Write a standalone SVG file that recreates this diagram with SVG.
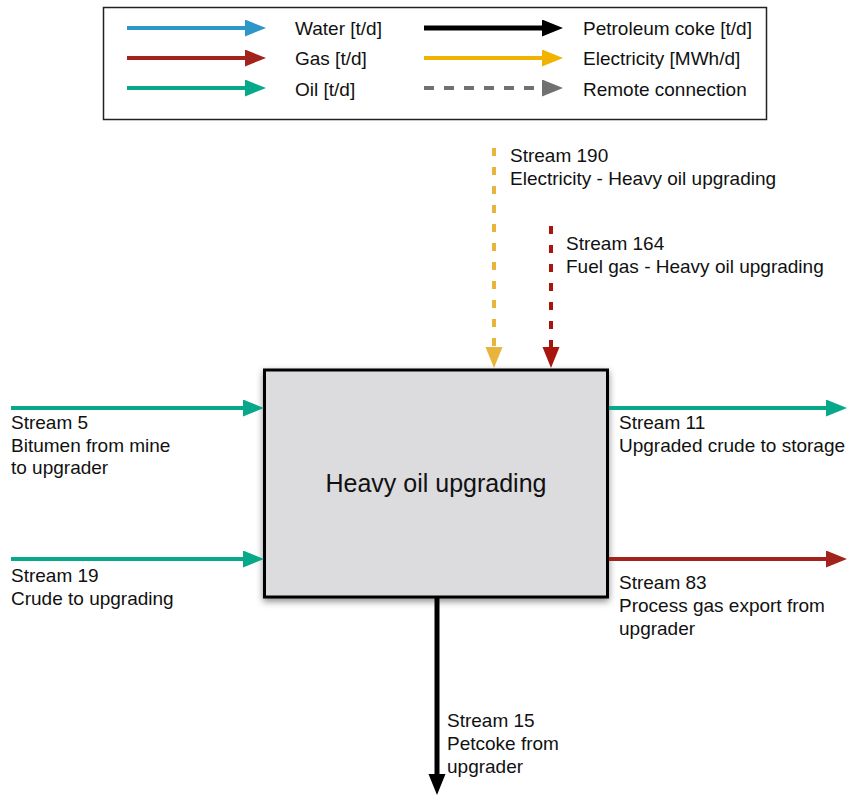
<svg xmlns="http://www.w3.org/2000/svg" width="848" height="795" viewBox="0 0 848 795">
  <style>
    text { font-family: "Liberation Sans", Arial, Helvetica, sans-serif; font-size: 19px; fill: #111; }
    .flow { fill: none; stroke-width: 4; }
    .water { stroke: #2d97c9; }
    .gas { stroke: #a3221b; }
    .oil { stroke: #08a98b; }
    .coke { stroke: #000; stroke-width: 5; }
    .elec { stroke: #f0b400; }
    .remote { stroke: #707070; stroke-dasharray: 10 10; }
    .elec-remote { stroke: #e8b43c; stroke-dasharray: 8 11; }
    .gas-remote { stroke: #a8150c; stroke-dasharray: 8 11; }
    .box { fill: #dcdcde; stroke: #000; stroke-width: 3; }
  </style>
  <defs>
    <marker id="h-water" markerUnits="userSpaceOnUse" markerWidth="22" markerHeight="18" refX="0" refY="8.5" orient="auto"><path d="M0,0 L21,8.5 L0,17 z" fill="#2d97c9"/></marker>
    <marker id="h-gas" markerUnits="userSpaceOnUse" markerWidth="22" markerHeight="18" refX="0" refY="8.5" orient="auto"><path d="M0,0 L21,8.5 L0,17 z" fill="#a3221b"/></marker>
    <marker id="h-oil" markerUnits="userSpaceOnUse" markerWidth="22" markerHeight="18" refX="0" refY="8.5" orient="auto"><path d="M0,0 L21,8.5 L0,17 z" fill="#08a98b"/></marker>
    <marker id="h-coke" markerUnits="userSpaceOnUse" markerWidth="22" markerHeight="18" refX="0" refY="8.5" orient="auto"><path d="M0,0 L21,8.5 L0,17 z" fill="#000"/></marker>
    <marker id="h-elec" markerUnits="userSpaceOnUse" markerWidth="22" markerHeight="18" refX="0" refY="8.5" orient="auto"><path d="M0,0 L21,8.5 L0,17 z" fill="#f0b400"/></marker>
    <marker id="h-remote" markerUnits="userSpaceOnUse" markerWidth="22" markerHeight="18" refX="0" refY="8.5" orient="auto"><path d="M0,0 L21,8.5 L0,17 z" fill="#707070"/></marker>
    <marker id="h-elec-remote" markerUnits="userSpaceOnUse" markerWidth="22" markerHeight="18" refX="0" refY="8.5" orient="auto"><path d="M0,0 L21,8.5 L0,17 z" fill="#e8b43c"/></marker>
    <marker id="h-gas-remote" markerUnits="userSpaceOnUse" markerWidth="22" markerHeight="18" refX="0" refY="8.5" orient="auto"><path d="M0,0 L21,8.5 L0,17 z" fill="#a8150c"/></marker>
    <filter id="shadow" x="-10%" y="-10%" width="120%" height="125%">
      <feDropShadow dx="0" dy="3" stdDeviation="3.5" flood-color="#000" flood-opacity="0.45"/>
    </filter>
  </defs>

  <!-- Legend -->
  <g id="legend">
    <rect x="103.5" y="7.5" width="663" height="112" fill="#fff" stroke="#222" stroke-width="1.5"/>
    <line class="flow water" x1="127" y1="28" x2="245" y2="28" marker-end="url(#h-water)"/>
    <line class="flow gas" x1="127" y1="58" x2="245" y2="58" marker-end="url(#h-gas)"/>
    <line class="flow oil" x1="127" y1="88" x2="245" y2="88" marker-end="url(#h-oil)"/>
    <text x="295" y="35">Water [t/d]</text>
    <text x="295" y="65">Gas [t/d]</text>
    <text x="295" y="96">Oil [t/d]</text>
    <line class="flow coke" x1="424" y1="28" x2="542" y2="28" marker-end="url(#h-coke)"/>
    <line class="flow elec" x1="424" y1="58" x2="542" y2="58" marker-end="url(#h-elec)"/>
    <line class="flow remote" x1="424" y1="88" x2="542" y2="88" marker-end="url(#h-remote)"/>
    <text x="583" y="35">Petroleum coke [t/d]</text>
    <text x="583" y="65">Electricity [MWh/d]</text>
    <text x="583" y="96">Remote connection</text>
  </g>

  <!-- Process unit -->
  <g id="heavy-oil-upgrading">
    <rect class="box" x="264.5" y="370" width="343" height="227" filter="url(#shadow)"/>
    <text x="436" y="492" text-anchor="middle" style="font-size:25px">Heavy oil upgrading</text>
  </g>

  <!-- Streams -->
  <g id="connectors">
    <line class="flow elec-remote" x1="494" y1="148" x2="494" y2="347" marker-end="url(#h-elec-remote)"/>
    <line class="flow gas-remote" x1="551" y1="226" x2="551" y2="347" marker-end="url(#h-gas-remote)"/>
    <line class="flow oil" x1="11" y1="408" x2="243" y2="408" marker-end="url(#h-oil)"/>
    <line class="flow oil" x1="11" y1="559" x2="243" y2="559" marker-end="url(#h-oil)"/>
    <line class="flow oil" x1="609" y1="408" x2="826" y2="408" marker-end="url(#h-oil)"/>
    <line class="flow gas" x1="609" y1="559" x2="826" y2="559" marker-end="url(#h-gas)"/>
    <line class="flow coke" x1="437" y1="598" x2="437" y2="774" marker-end="url(#h-coke)"/>
  </g>

  <!-- Stream labels -->
  <g id="labels">
    <text x="510" y="162">Stream 190</text>
    <text x="510" y="185">Electricity - Heavy oil upgrading</text>
    <text x="566" y="250">Stream 164</text>
    <text x="566" y="273">Fuel gas - Heavy oil upgrading</text>
    <text x="11" y="429">Stream 5</text>
    <text x="11" y="452">Bitumen from mine</text>
    <text x="11" y="474">to upgrader</text>
    <text x="11" y="582">Stream 19</text>
    <text x="11" y="605">Crude to upgrading</text>
    <text x="619" y="429">Stream 11</text>
    <text x="619" y="452">Upgraded crude to storage</text>
    <text x="619" y="589">Stream 83</text>
    <text x="619" y="612">Process gas export from</text>
    <text x="619" y="635">upgrader</text>
    <text x="447" y="727">Stream 15</text>
    <text x="447" y="750">Petcoke from</text>
    <text x="447" y="773">upgrader</text>
  </g>
</svg>
